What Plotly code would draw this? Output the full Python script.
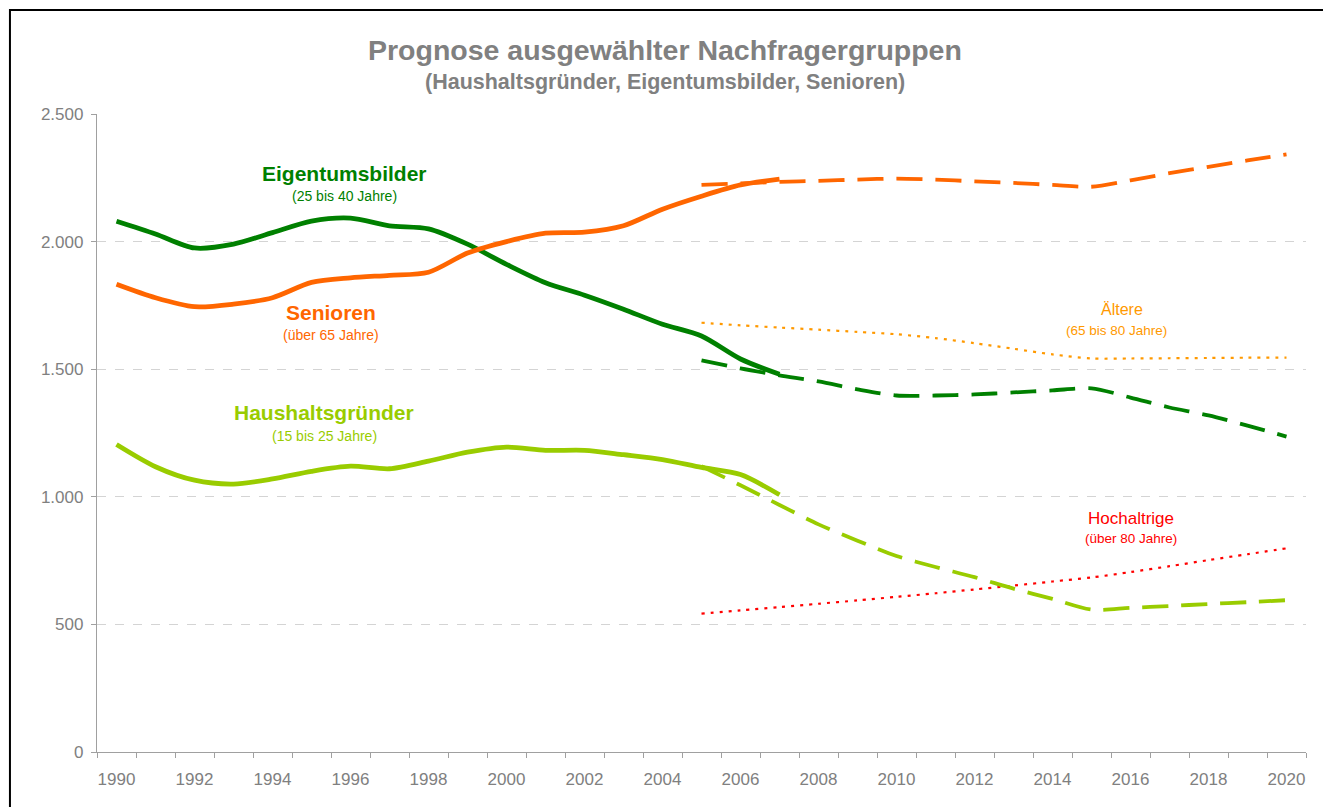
import plotly.graph_objects as go

# ---- data ----
years_hist = list(range(1990, 2008))
years_fc = list(range(2005, 2021))

eigentum_hist = [2080, 2030, 1975, 1990, 2035, 2080, 2092, 2062, 2050, 1990,
                 1911, 1839, 1790, 1735, 1676, 1630, 1540, 1480]
senioren_hist = [1833, 1780, 1745, 1755, 1780, 1840, 1858, 1868, 1880, 1955,
                 2000, 2033, 2037, 2062, 2127, 2178, 2222, 2245]
haushalt_hist = [1205, 1118, 1065, 1050, 1070, 1100, 1120, 1110, 1140, 1175,
                 1195, 1182, 1182, 1165, 1146, 1115, 1087, 1008]

eigentum_fc = [1535, 1503, 1476, 1452, 1421, 1397, 1397, 1401, 1409, 1417,
               1425, 1389, 1350, 1319, 1279, 1236]
senioren_fc = [2222, 2228, 2234, 2238, 2243, 2247, 2243, 2236, 2230, 2222,
               2215, 2240, 2268, 2293, 2318, 2342]
haushalt_fc = [1120, 1045, 968, 892, 828, 768, 725, 685, 640, 600,
               558, 565, 572, 580, 587, 595]
aeltere_fc = [1682, 1672, 1663, 1655, 1646, 1637, 1622, 1602, 1580, 1558,
              1542, 1542, 1543, 1544, 1545, 1545]
hochaltrige_fc = [542, 555, 568, 581, 594, 608, 622, 637, 652, 668,
                  684, 705, 728, 752, 775, 798]

x_tick_vals = list(range(1990, 2021, 2))
x_tick_text = [str(v) for v in x_tick_vals]
y_tick_vals = [0, 500, 1000, 1500, 2000, 2500]
y_tick_text = ["0", "500", "1.000", "1.500", "2.000", "2.500"]

# ---- colours ----
C_GREEN = "#008000"
C_ORANGE = "#FF6600"
C_LIME = "#99CC00"
C_AMBER = "#FF9900"
C_RED = "#FF0000"
C_GRAY = "#808080"
FONT = "Liberation Sans, Arial, sans-serif"

fig = go.Figure()

def add(x, y, color, width, dash):
    fig.add_trace(go.Scatter(x=x, y=y, mode="lines",
                             line=dict(color=color, width=width, dash=dash,
                                       shape="spline", smoothing=0.8),
                             hoverinfo="skip", showlegend=False))

# forecasts first (below), history on top
add(years_fc, aeltere_fc, C_AMBER, 2.2, "3px,6px")
add(years_fc, hochaltrige_fc, C_RED, 2.2, "3px,6px")
add(years_fc, eigentum_fc, C_GREEN, 3.8, "26px,13px")
add(years_fc, senioren_fc, C_ORANGE, 3.8, "26px,13px")
add(years_fc, haushalt_fc, C_LIME, 3.8, "26px,13px")
add(years_hist, eigentum_hist, C_GREEN, 4.8, "solid")
add(years_hist, senioren_hist, C_ORANGE, 4.8, "solid")
add(years_hist, haushalt_hist, C_LIME, 4.8, "solid")

annotations = []

def label(x, y, text, color, size, bold=False, xref="x", yref="y"):
    t = f"<b>{text}</b>" if bold else text
    annotations.append(dict(x=x, y=y, xref=xref, yref=yref, text=t,
                            showarrow=False, xanchor="center", yanchor="middle",
                            font=dict(family=FONT, size=size, color=color)))

label(0.4698, 1.101, "Prognose ausgewählter Nachfragergruppen", C_GRAY, 28.5, True, "paper", "paper")
label(0.4698, 1.0505, "(Haushaltsgründer, Eigentumsbilder, Senioren)", C_GRAY, 21.5, True, "paper", "paper")

label(1995.85, 2268, "Eigentumsbilder", C_GREEN, 21, True)
label(1995.85, 2179, "(25 bis 40 Jahre)", C_GREEN, 14)
label(1995.5, 1722, "Senioren", C_ORANGE, 21, True)
label(1995.5, 1634, "(über 65 Jahre)", C_ORANGE, 14)
label(1995.33, 1329, "Haushaltsgründer", C_LIME, 21, True)
label(1995.33, 1237, "(15 bis 25 Jahre)", C_LIME, 14)
label(2015.77, 1732, "Ältere", C_AMBER, 16)
label(2015.65, 1652, "(65 bis 80 Jahre)", C_AMBER, 13.5)
label(2016.02, 914, "Hochaltrige", C_RED, 17)
label(2016.0, 835, "(über 80 Jahre)", C_RED, 13.5)

fig.update_layout(
    width=1323, height=799,
    margin=dict(l=89, r=25, t=106, b=55),
    paper_bgcolor="white", plot_bgcolor="white",
    showlegend=False,
    annotations=annotations,
    shapes=[dict(type="rect", xref="paper", yref="paper",
                 x0=-0.072, x1=1.0182, y0=-0.12, y1=1.163,
                 line=dict(color="black", width=2), fillcolor="rgba(0,0,0,0)",
                 layer="below")],
    xaxis=dict(range=[1989.5, 2020.5], tickvals=x_tick_vals, ticktext=x_tick_text,
               ticks="outside", ticklen=11, tickcolor="rgba(0,0,0,0)",
               showgrid=False, zeroline=False,
               showline=True, linecolor="#A0A0A0", linewidth=1.3,
               tickfont=dict(family=FONT, size=17, color=C_GRAY),
               minor=dict(tick0=1989.5, dtick=1, ticks="outside", ticklen=5,
                          tickcolor="#A0A0A0", showgrid=False)),
    yaxis=dict(range=[0, 2500], tickvals=y_tick_vals, ticktext=y_tick_text,
               ticks="outside", ticklen=5, tickcolor="#A0A0A0",
               ticklabelstandoff=4,
               showgrid=True, gridcolor="#D4D4D4", griddash="dash", gridwidth=1,
               zeroline=False, showline=True, linecolor="#A0A0A0", linewidth=1.3,
               tickfont=dict(family=FONT, size=17, color=C_GRAY)),
)

fig.write_html("out.html")
